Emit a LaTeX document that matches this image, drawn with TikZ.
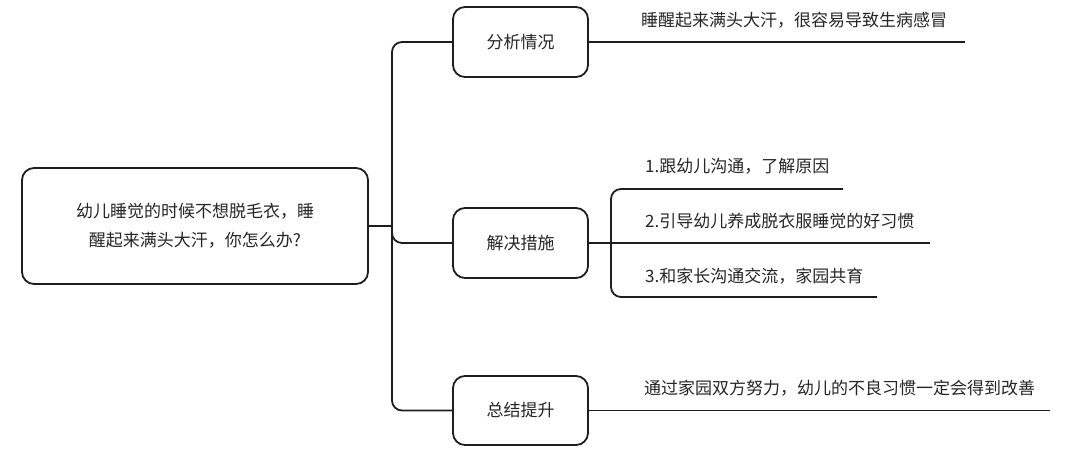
\documentclass[tikz,border=0pt]{standalone}
\usepackage{fontspec}
\newfontfamily\cjk{Noto Sans CJK SC}
\definecolor{txt}{HTML}{262626}
\definecolor{ln}{HTML}{1E1E1E}
\begin{document}
\begin{tikzpicture}[x=1pt,y=-1pt,
  box/.style={draw=ln,line width=1.8pt,rounded corners=12pt,fill=white,inner sep=0pt,
    font=\cjk\fontsize{17}{29}\selectfont,text=txt,align=center},
  leaf/.style={anchor=west,inner sep=0pt,font=\cjk\fontsize{17}{20}\selectfont,text=txt},
  conn/.style={draw=ln,line width=1.8pt,rounded corners=10pt}]
\useasboundingbox (0,0) rectangle (1074,456);
% nodes
\node[box,minimum width=346pt,minimum height=116pt] (root) at (195,226)
  {幼儿睡觉的时候不想脱毛衣，睡\\醒起来满头大汗，你怎么办?};
\node[box,minimum width=135pt,minimum height=70pt] (b1) at (520.5,42) {分析情况};
\node[box,minimum width=135pt,minimum height=70pt] (b2) at (520.5,243) {解决措施};
\node[box,minimum width=135pt,minimum height=69pt] (b3) at (520.5,410.5) {总结提升};
% leaf texts
\node[leaf] (t1) at (641,20) {睡醒起来满头大汗，很容易导致生病感冒};
\node[leaf] (t21) at (645,166) {1.跟幼儿沟通，了解原因};
\node[leaf] (t22) at (645,221) {2.引导幼儿养成脱衣服睡觉的好习惯};
\node[leaf] (t23) at (645,276) {3.和家长沟通交流，家园共育};
\node[leaf] (t3) at (644,388) {通过家园双方努力，幼儿的不良习惯一定会得到改善};
% coordinates
\coordinate (tj) at (392,226);
\coordinate (ttop) at (392,42);
\coordinate (tbot) at (392,410.5);
\coordinate (e1) at (965,42);
\coordinate (e3) at (1050,410.5);
\coordinate (sj) at (611,243);
\coordinate (s1) at (611,189);
\coordinate (s3) at (611,297);
\coordinate (e21) at (843,189);
\coordinate (e22) at (930,243);
\coordinate (e23) at (877,297);
% connectors
\draw[conn] (root.east |- tj) -- (tj);
\draw[conn] (b1.west) -- (ttop) -- (tbot) -- (b3.west);
\draw[conn] (tj) |- (b2.west);
\draw[conn] (b1.east) -- (e1);
\draw[conn] (b3.east) -- (e3);
\draw[conn] (b2.east) -- (e22);
\draw[conn] (e21) -- (s1) -- (s3) -- (e23);
\end{tikzpicture}
\end{document}
